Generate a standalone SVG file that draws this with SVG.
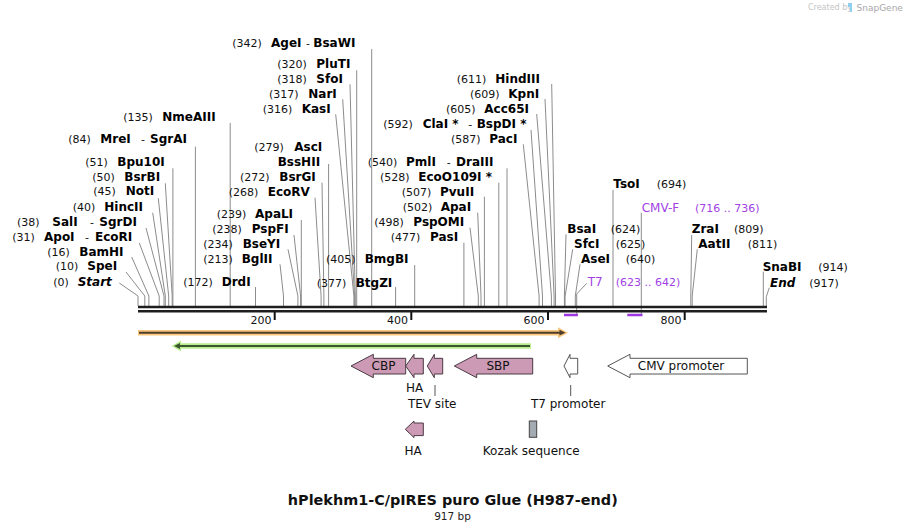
<svg xmlns="http://www.w3.org/2000/svg" width="905" height="532" viewBox="0 0 905 532">
<style>
.t{font-family:"DejaVu Sans",Verdana,sans-serif;font-size:11px;fill:#111}
.b{font-weight:bold;font-size:12px;fill:#000}
.bi{font-weight:bold;font-style:italic;font-size:12px;fill:#000}
.pr{fill:#a23fe4}
.f{font-family:"DejaVu Sans",Verdana,sans-serif;font-size:12px;fill:#111}
#connectors polyline{fill:none;stroke:#8c8c8c;stroke-width:1}
.pl{fill:none;stroke:#9d38e0;stroke-width:1.2}
.pbar{stroke:#9d38e0;stroke-width:2.5}
.feat{fill:#cc9ab4;stroke:#4a3a44;stroke-width:1}
.prom{fill:#fff;stroke:#555;stroke-width:1}
.tick{stroke:#111;stroke-width:2}
.lead{stroke:#555;stroke-width:1}
</style>

<g id="watermark">
<text x="808" y="10" style="font-family:'DejaVu Sans',sans-serif;font-size:8px;fill:#c4c4c4">Created by</text>
<path d="M848,3 h4 v9 h-2 v-5 h-2 z" fill="#8fd0f0"/>
<text x="856.5" y="10.5" style="font-family:'DejaVu Sans',sans-serif;font-size:9px;fill:#a8a8a8">SnapGene</text>
</g>

<g id="connectors">
<polyline points="119.3,283 138,296 138,306"/>
<polyline points="126,272 144.8,296 144.8,306"/>
<polyline points="131.7,257 148.9,296 148.9,306"/>
<polyline points="139.3,243 159.2,296 159.2,306"/>
<polyline points="146,228 164,296 164,306"/>
<polyline points="152.7,212.7 165.3,296 165.3,306"/>
<polyline points="158.3,198.3 168.7,296 168.7,306"/>
<polyline points="165.3,183.3 172.2,296 172.2,306"/>
<polyline points="172.9,168.3 172.9,306"/>
<polyline points="195.4,146.7 195.4,306"/>
<polyline points="230.2,123 230.2,306"/>
<polyline points="371.7,49 371.7,306"/>
<polyline points="356.7,70.3 356.7,306"/>
<polyline points="350,84.3 355.3,296 355.3,306"/>
<polyline points="342.7,99.3 354.6,296 354.6,306"/>
<polyline points="335.7,114.3 353.9,296 353.9,306"/>
<polyline points="328.6,164 328.6,306"/>
<polyline points="322,182.7 323.9,296 323.9,306"/>
<polyline points="315,197.7 321.1,296 321.1,306"/>
<polyline points="301.3,220 301.3,306"/>
<polyline points="294,235 300.6,296 300.6,306"/>
<polyline points="288,249.3 297.9,296 297.9,306"/>
<polyline points="280,264.3 283.5,296 283.5,306"/>
<polyline points="255.5,287 255.5,306"/>
<polyline points="414.7,265 414.7,306"/>
<polyline points="395.6,287 395.6,306"/>
<polyline points="551.7,84 555.5,296 555.5,306"/>
<polyline points="545,99 554.1,296 554.1,306"/>
<polyline points="536.7,114 551.4,296 551.4,306"/>
<polyline points="531,130 542.5,296 542.5,306"/>
<polyline points="523.3,144.3 539.1,296 539.1,306"/>
<polyline points="507,168.3 507,306"/>
<polyline points="498.8,182.7 498.8,306"/>
<polyline points="484.4,196.7 484.4,306"/>
<polyline points="477.7,212.7 481,296 481,306"/>
<polyline points="470,227.7 478.3,296 478.3,306"/>
<polyline points="463.9,242.7 463.9,306"/>
<polyline points="613,190 613,306"/>
<polyline points="566,234.3 564.4,296 564.4,306"/>
<polyline points="572.7,249.3 565.1,296 565.1,306"/>
<polyline points="580,264.3 575.3,296 575.3,306"/>
<polyline points="691.7,235 690.8,296 690.8,306"/>
<polyline points="697.3,249.3 692.2,296 692.2,306"/>
<polyline points="763.3,271.7 763.3,306"/>
<polyline points="769.3,287.7 766.3,296.7 766.3,306"/>
<polyline class="pl" points="641.3,212.7 641.3,316"/>
<line class="pbar" x1="627.3" y1="315" x2="642.5" y2="315"/>
<polyline class="pl" points="586.7,283.3 576.7,294 576.7,316"/>
<line class="pbar" x1="564" y1="315" x2="577.9" y2="315"/>
<line class="lead" x1="435" y1="385" x2="435" y2="396"/>
<line class="lead" x1="570.7" y1="385" x2="570.7" y2="396"/>
</g>

<g id="backbone">
<line x1="138" y1="307" x2="767" y2="307" stroke="#1e1e1e" stroke-width="2.6"/>
<line x1="138" y1="311.3" x2="767" y2="311.3" stroke="#1e1e1e" stroke-width="2.4"/>
<line class="tick" x1="274.7" y1="312" x2="274.7" y2="320"/>
<line class="tick" x1="411.3" y1="312" x2="411.3" y2="320"/>
<line class="tick" x1="548" y1="312" x2="548" y2="320"/>
<line class="tick" x1="684.7" y1="312" x2="684.7" y2="320"/>
<text class="t" x="271.5" y="323.5" text-anchor="end">200</text>
<text class="t" x="408" y="323.5" text-anchor="end">400</text>
<text class="t" x="544.5" y="323.5" text-anchor="end">600</text>
<text class="t" x="681.5" y="323.5" text-anchor="end">800</text>
</g>

<!-- left cluster -->
<g id="site-Start"><text class="t" y="286"><tspan x="53.3">(0)</tspan><tspan class="bi" x="77.7">Start</tspan></text></g>
<g id="site-SpeI"><text class="t" y="270"><tspan x="55.7">(10)</tspan><tspan class="b" x="87.3">SpeI</tspan></text></g>
<g id="site-BamHI"><text class="t" y="256"><tspan x="47.3">(16)</tspan><tspan class="b" x="79.3">BamHI</tspan></text></g>
<g id="site-ApoI"><text class="t" y="241"><tspan x="12.3">(31)</tspan><tspan class="b" x="44">ApoI</tspan><tspan x="85">-</tspan><tspan class="b" x="95">EcoRI</tspan></text></g>
<g id="site-SalI"><text class="t" y="226"><tspan x="17">(38)</tspan><tspan class="b" x="52.3">SalI</tspan><tspan x="90">-</tspan><tspan class="b" x="99.3">SgrDI</tspan></text></g>
<g id="site-HincII"><text class="t" y="211"><tspan x="72.7">(40)</tspan><tspan class="b" x="104.3">HincII</tspan></text></g>
<g id="site-NotI"><text class="t" y="195.3"><tspan x="93.3">(45)</tspan><tspan class="b" x="125.7">NotI</tspan></text></g>
<g id="site-BsrBI"><text class="t" y="181"><tspan x="92.3">(50)</tspan><tspan class="b" x="124.3">BsrBI</tspan></text></g>
<g id="site-Bpu10I"><text class="t" y="166"><tspan x="85.3">(51)</tspan><tspan class="b" x="117.3">Bpu10I</tspan></text></g>
<g id="site-MreI"><text class="t" y="143.3"><tspan x="68.3">(84)</tspan><tspan class="b" x="100.3">MreI</tspan><tspan x="141">-</tspan><tspan class="b" x="150">SgrAI</tspan></text></g>
<g id="site-NmeAIII"><text class="t" y="121"><tspan x="123.3">(135)</tspan><tspan class="b" x="162.3">NmeAIII</tspan></text></g>

<!-- middle cluster -->
<g id="site-AgeI"><text class="t" y="47"><tspan x="232.3">(342)</tspan><tspan class="b" x="271">AgeI</tspan><tspan x="306">-</tspan><tspan class="b" x="313.3">BsaWI</tspan></text></g>
<g id="site-PluTI"><text class="t" y="68"><tspan x="277.3">(320)</tspan><tspan class="b" x="316.3">PluTI</tspan></text></g>
<g id="site-SfoI"><text class="t" y="83"><tspan x="277.3">(318)</tspan><tspan class="b" x="316.3">SfoI</tspan></text></g>
<g id="site-NarI"><text class="t" y="97.6"><tspan x="269">(317)</tspan><tspan class="b" x="308.3">NarI</tspan></text></g>
<g id="site-KasI"><text class="t" y="113.3"><tspan x="262.7">(316)</tspan><tspan class="b" x="301.7">KasI</tspan></text></g>
<g id="site-AscI"><text class="t" y="151"><tspan x="254.3">(279)</tspan><tspan class="b" x="294.3">AscI</tspan></text></g>
<g id="site-BssHII"><text class="t" y="166"><tspan class="b" x="277.7">BssHII</tspan></text></g>
<g id="site-BsrGI"><text class="t" y="181"><tspan x="240">(272)</tspan><tspan class="b" x="279.3">BsrGI</tspan></text></g>
<g id="site-EcoRV"><text class="t" y="196"><tspan x="228.7">(268)</tspan><tspan class="b" x="267.7">EcoRV</tspan></text></g>
<g id="site-ApaLI"><text class="t" y="218.3"><tspan x="216.7">(239)</tspan><tspan class="b" x="255">ApaLI</tspan></text></g>
<g id="site-PspFI"><text class="t" y="233.3"><tspan x="212.3">(238)</tspan><tspan class="b" x="251.7">PspFI</tspan></text></g>
<g id="site-BseYI"><text class="t" y="247.6"><tspan x="203.3">(234)</tspan><tspan class="b" x="242.7">BseYI</tspan></text></g>
<g id="site-BglII"><text class="t" y="262.6"><tspan x="203.3">(213)</tspan><tspan class="b" x="241.7">BglII</tspan></text></g>
<g id="site-DrdI"><text class="t" y="286"><tspan x="183.3">(172)</tspan><tspan class="b" x="221.7">DrdI</tspan></text></g>
<g id="site-BmgBI"><text class="t" y="263.3"><tspan x="326">(405)</tspan><tspan class="b" x="364.7">BmgBI</tspan></text></g>
<g id="site-BtgZI"><text class="t" y="286.6"><tspan x="316.7">(377)</tspan><tspan class="b" x="355.7">BtgZI</tspan></text></g>

<!-- right-middle cluster -->
<g id="site-HindIII"><text class="t" y="83.3"><tspan x="456.7">(611)</tspan><tspan class="b" x="495.3">HindIII</tspan></text></g>
<g id="site-KpnI"><text class="t" y="98.3"><tspan x="470">(609)</tspan><tspan class="b" x="508.3">KpnI</tspan></text></g>
<g id="site-Acc65I"><text class="t" y="113.3"><tspan x="446">(605)</tspan><tspan class="b" x="484.3">Acc65I</tspan></text></g>
<g id="site-ClaI"><text class="t" y="127.6"><tspan x="383.3">(592)</tspan><tspan class="b" x="422.7">ClaI *</tspan><tspan x="468.3">-</tspan><tspan class="b" x="476.7">BspDI *</tspan></text></g>
<g id="site-PacI"><text class="t" y="143.3"><tspan x="451">(587)</tspan><tspan class="b" x="489.3">PacI</tspan></text></g>
<g id="site-PmlI"><text class="t" y="166"><tspan x="367.7">(540)</tspan><tspan class="b" x="406">PmlI</tspan><tspan x="446.7">-</tspan><tspan class="b" x="456">DraIII</tspan></text></g>
<g id="site-EcoO109I"><text class="t" y="181"><tspan x="380">(528)</tspan><tspan class="b" x="418.3">EcoO109I *</tspan></text></g>
<g id="site-PvuII"><text class="t" y="196"><tspan x="401.7">(507)</tspan><tspan class="b" x="440">PvuII</tspan></text></g>
<g id="site-ApaI"><text class="t" y="211"><tspan x="402.7">(502)</tspan><tspan class="b" x="440.7">ApaI</tspan></text></g>
<g id="site-PspOMI"><text class="t" y="226"><tspan x="374.3">(498)</tspan><tspan class="b" x="413.3">PspOMI</tspan></text></g>
<g id="site-PasI"><text class="t" y="241"><tspan x="390.7">(477)</tspan><tspan class="b" x="430">PasI</tspan></text></g>

<!-- right cluster -->
<g id="site-TsoI"><text class="t" y="188.3"><tspan class="b" x="613.3">TsoI</tspan><tspan x="656.7">(694)</tspan></text></g>
<g id="primer-CMV-F"><text class="t pr" y="211.6"><tspan x="641.7" style="font-size:12px">CMV-F</tspan><tspan x="695">(716 .. 736)</tspan></text></g>
<g id="site-BsaI"><text class="t" y="233.3"><tspan class="b" x="567.3">BsaI</tspan><tspan x="610.7">(624)</tspan></text></g>
<g id="site-SfcI"><text class="t" y="247.6"><tspan class="b" x="574">SfcI</tspan><tspan x="615.7">(625)</tspan></text></g>
<g id="site-AseI"><text class="t" y="263.3"><tspan class="b" x="581">AseI</tspan><tspan x="625.7">(640)</tspan></text></g>
<g id="primer-T7"><text class="t pr" y="286"><tspan x="587.7" style="font-size:12px">T7</tspan><tspan x="615.7">(623 .. 642)</tspan></text></g>
<g id="site-ZraI"><text class="t" y="233.3"><tspan class="b" x="691.7">ZraI</tspan><tspan x="734">(809)</tspan></text></g>
<g id="site-AatII"><text class="t" y="247.6"><tspan class="b" x="698.3">AatII</tspan><tspan x="747.7">(811)</tspan></text></g>
<g id="site-SnaBI"><text class="t" y="271"><tspan class="b" x="762.7">SnaBI</tspan><tspan x="818.3">(914)</tspan></text></g>
<g id="site-End"><text class="t" y="286.6"><tspan class="bi" x="770">End</tspan><tspan x="809.3">(917)</tspan></text></g>

<!-- ORFs -->
<g id="orf-forward">
<line x1="138" y1="332.7" x2="561" y2="332.7" stroke="#f9c77c" stroke-width="5.5"/>
<polygon points="558,327.2 568,332.7 558,338.2" fill="#f9c77c"/>
<line x1="139" y1="332.7" x2="561" y2="332.7" stroke="#4e3d2c" stroke-width="2"/>
<polygon points="559.5,329.8 565.5,332.7 559.5,335.6" fill="#4e3d2c"/>
</g>
<g id="orf-reverse">
<line x1="177" y1="346" x2="531" y2="346" stroke="#b9ee8f" stroke-width="5.5"/>
<polygon points="181,340.5 171.5,346 181,351.5" fill="#b9ee8f"/>
<line x1="178" y1="346" x2="530" y2="346" stroke="#3c5630" stroke-width="2"/>
<polygon points="180,343.1 174,346 180,348.9" fill="#3c5630"/>
</g>

<!-- features -->
<g id="feat-CBP">
<polygon class="feat" points="351,366 373.3,354.3 373.3,358.3 405.7,358.3 405.7,374 373.3,374 373.3,377.7"/>
<text class="f" x="383.5" y="370.3" text-anchor="middle">CBP</text>
</g>
<g id="feat-HA">
<polygon class="feat" points="405.7,366 414,354.3 414,358.3 423.3,358.3 423.3,374 414,374 414,377.7"/>
<text class="f" x="414.5" y="392" text-anchor="middle">HA</text>
</g>
<g id="feat-TEV">
<polygon class="feat" points="427.3,366 434.3,354.3 434.3,358.3 442.7,358.3 442.7,374 434.3,374 434.3,377.7"/>
<text class="f" x="432.2" y="408.3" text-anchor="middle">TEV site</text>
</g>
<g id="feat-SBP">
<polygon class="feat" points="454.3,366 476.7,354.3 476.7,358.3 532.7,358.3 532.7,374 476.7,374 476.7,377.7"/>
<text class="f" x="498" y="370.3" text-anchor="middle">SBP</text>
</g>
<g id="feat-T7promoter">
<polygon class="prom" points="564,366 570,354.3 570,358.3 577.7,358.3 577.7,374 570,374 570,377.7"/>
<text class="f" x="568.2" y="408.3" text-anchor="middle">T7 promoter</text>
</g>
<g id="feat-CMV">
<polygon class="prom" points="607.7,366 630,354.3 630,358.3 747.3,358.3 747.3,374 630,374 630,377.7"/>
<text class="f" x="681" y="370.3" text-anchor="middle">CMV promoter</text>
</g>
<g id="feat-HA2">
<polygon class="feat" points="405.3,429.3 414,421 414,423 423.3,423 423.3,435.6 414,435.6 414,437.6"/>
<text class="f" x="413" y="455.3" text-anchor="middle">HA</text>
</g>
<g id="feat-Kozak">
<rect x="529.3" y="421" width="7.4" height="16.3" fill="#a3aab2" stroke="#444" stroke-width="1"/>
<text class="f" x="531.2" y="455.3" text-anchor="middle">Kozak sequence</text>
</g>

<g id="title">
<text x="452.8" y="505" text-anchor="middle" style="font-family:'DejaVu Sans',Verdana,sans-serif;font-weight:bold;font-size:14.4px;fill:#111">hPlekhm1-C/pIRES puro Glue (H987-end)</text>
<text x="452.5" y="520" text-anchor="middle" style="font-family:'DejaVu Sans',Verdana,sans-serif;font-size:10.5px;fill:#222">917 bp</text>
</g>
</svg>
